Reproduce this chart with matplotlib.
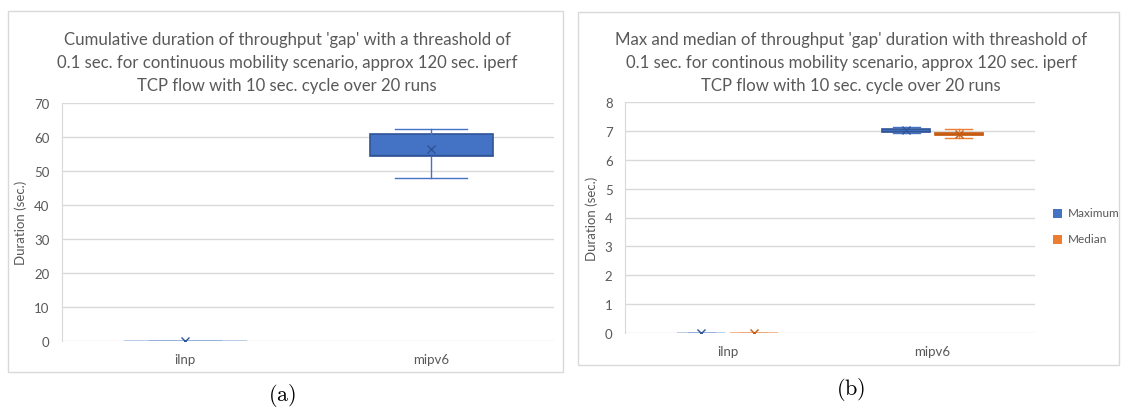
import matplotlib
matplotlib.use("Agg")
import matplotlib.pyplot as plt
from matplotlib.patches import Rectangle

# --- Data ---
categories = ["ilnp", "mipv6"]

# (a) cumulative gap duration
cum_whislo = [0.0, 47.8]
cum_q1 = [0.0, 54.5]
cum_med = [0.0, 54.8]
cum_q3 = [0.0, 60.8]
cum_whishi = [0.0, 62.3]
cum_mean = [0.0, 56.5]

# (b) max and median gap duration
max_whislo = [0.0, 6.93]
max_q1 = [0.0, 6.95]
max_med = [0.0, 7.00]
max_q3 = [0.0, 7.08]
max_whishi = [0.0, 7.12]
max_mean = [0.0, 7.02]

med_whislo = [0.0, 6.77]
med_q1 = [0.0, 6.84]
med_med = [0.0, 6.88]
med_q3 = [0.0, 6.94]
med_whishi = [0.0, 7.05]
med_mean = [0.0, 6.90]

# --- Style ---
W, H = 1121, 410
TXT = "#595959"
GRID = "#D9D9D9"
BLUE = "#4472C4"
BLUE_DK = "#2F5597"
ORANGE = "#ED7D31"
ORANGE_DK = "#C55A11"
plt.rcParams["font.family"] = ["Lato", "DejaVu Sans"]
plt.rcParams["mathtext.fontset"] = "cm"


def fx(px):
    return px / W


def fy(py):
    return 1 - py / H


def ax_rect(x0, y0, x1, y1):
    # pixel box (top-left, bottom-right) -> figure rect
    return [fx(x0), fy(y1), fx(x1) - fx(x0), fy(y0) - fy(y1)]


def make_stats(lo, q1, med, q3, hi, mean, i):
    return dict(whislo=lo[i], q1=q1[i], med=med[i], q3=q3[i], whishi=hi[i],
                mean=mean[i], fliers=[])


def draw_box(ax, stats, pos, width, face, edge, light):
    zero = stats["q3"] == stats["q1"]
    ax.bxp([stats], positions=[pos], widths=width, patch_artist=True,
           showmeans=True, manage_ticks=False,
           boxprops=dict(facecolor=face, edgecolor=light if zero else edge, linewidth=1.2),
           medianprops=dict(color=light if zero else edge, linewidth=1.0),
           whiskerprops=dict(color=face, linewidth=1.0),
           capprops=dict(color=face, linewidth=1.0),
           capwidths=width * 0.58,
           meanprops=dict(marker="x", markeredgecolor=edge, markersize=6,
                          markeredgewidth=1.0))


def style_axes(ax, ymax, step):
    ax.set_ylim(0, ymax)
    ax.set_xlim(0.5, 2.5)
    ax.set_yticks(range(0, ymax + 1, step))
    ax.set_xticks([1, 2])
    ax.set_xticklabels(categories)
    ax.grid(axis="y", color=GRID, linewidth=1.0)
    ax.set_axisbelow(True)
    for s in ["top", "right", "bottom"]:
        ax.spines[s].set_visible(False)
    ax.spines["left"].set_color(GRID)
    ax.tick_params(length=0, labelsize=9.5, colors=TXT, pad=9)
    ax.set_ylabel("Duration (sec.)", color=TXT, fontsize=9.5, labelpad=5)


fig = plt.figure(figsize=(W / 100, H / 100), dpi=100)

# chart frames
fig.patches.append(Rectangle((fx(8), fy(373)), fx(563) - fx(8), fy(12) - fy(373),
                             transform=fig.transFigure, fill=False,
                             edgecolor=GRID, linewidth=1.0))
fig.patches.append(Rectangle((fx(578), fy(366)), fx(1119) - fx(578), fy(13) - fy(366),
                             transform=fig.transFigure, fill=False,
                             edgecolor=GRID, linewidth=1.0))

# --- (a) ---
ax1 = fig.add_axes(ax_rect(62, 104, 554, 342))
for i in range(2):
    st = make_stats(cum_whislo, cum_q1, cum_med, cum_q3, cum_whishi, cum_mean, i)
    draw_box(ax1, st, i + 1, 0.5, BLUE, BLUE_DK, "#B4C7E7")
style_axes(ax1, 70, 10)
fig.text(fx(287), fy(63),
         "Cumulative duration of throughput 'gap' with a threashold of\n"
         "0.1 sec. for continuous mobility scenario, approx 120 sec. iperf\n"
         "TCP flow with 10 sec. cycle over 20 runs",
         ha="center", va="center", color=TXT, fontsize=12.1, linespacing=1.55)

# --- (b) ---
ax2 = fig.add_axes(ax_rect(625, 103, 1035, 334))
bw = 0.234
off = 0.127
for i in range(2):
    st = make_stats(max_whislo, max_q1, max_med, max_q3, max_whishi, max_mean, i)
    draw_box(ax2, st, i + 1 - off, bw, BLUE, BLUE_DK, "#B4C7E7")
    st = make_stats(med_whislo, med_q1, med_med, med_q3, med_whishi, med_mean, i)
    draw_box(ax2, st, i + 1 + off, bw, ORANGE, ORANGE_DK, "#F4B183")
style_axes(ax2, 8, 1)
fig.text(fx(851), fy(63),
         "Max and median of throughput 'gap' duration with threashold of\n"
         "0.1 sec. for continous mobility scenario, approx 120 sec. iperf\n"
         "TCP flow with 10 sec. cycle over 20 runs",
         ha="center", va="center", color=TXT, fontsize=12.1, linespacing=1.55)

# legend
for yy, col, lab in [(214, BLUE, "Maximum"), (240, ORANGE, "Median")]:
    fig.patches.append(Rectangle((fx(1053), fy(yy + 5)), fx(9), 9 / H,
                                 transform=fig.transFigure, facecolor=col,
                                 edgecolor="none"))
    fig.text(fx(1068), fy(yy), lab, ha="left", va="center", color=TXT, fontsize=8.5)

# sub-figure labels
fig.text(fx(282), fy(396), r"$\mathrm{(a)}$", ha="center", va="center", fontsize=16)
fig.text(fx(851), fy(390), r"$\mathrm{(b)}$", ha="center", va="center", fontsize=16)

fig.savefig("out.png", dpi=100)
